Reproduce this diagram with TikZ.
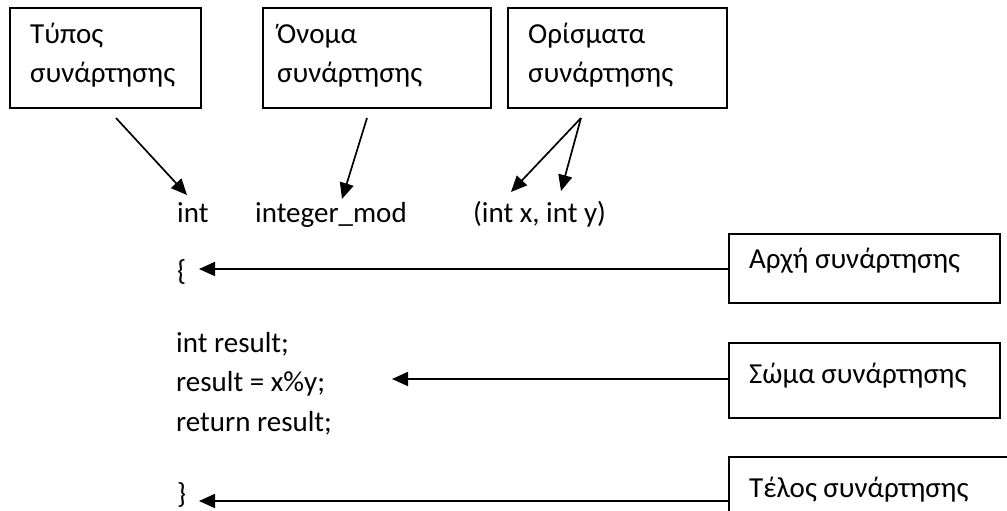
\documentclass[tikz,border=0pt]{standalone}
\usepackage{fontspec}
\setmainfont{Carlito}
\usetikzlibrary{arrows.meta}
\begin{document}
\begin{tikzpicture}[x=1pt,y=-1pt,
  box/.style={draw=black,line width=1.6pt,inner sep=0pt,anchor=north west},
  txt/.style={anchor=base west,inner sep=0pt,font=\fontsize{29}{34}\selectfont},
  conn/.style={line width=1.7pt,-{Triangle[length=16pt,width=14pt]}}]
\clip (0,0) rectangle (1007,511);
% boxes
\node[box,minimum width=191pt,minimum height=100pt] (b1) at (9,7) {};
\node[box,minimum width=228pt,minimum height=100pt] (b2) at (262,7) {};
\node[box,minimum width=219pt,minimum height=100pt] (b3) at (507,7) {};
\node[box,minimum width=271pt,minimum height=69pt] (b4) at (728,233) {};
\node[box,minimum width=271pt,minimum height=75pt] (b5) at (728,342) {};
\node[box,minimum width=300pt,minimum height=90pt] (b6) at (728,456) {};
% box texts
\node[txt] (t1a) at (30,44) {Τύπος};
\node[txt] (t1b) at (30,83) {συνάρτησης};
\node[txt] (t2a) at (277,44) {Όνομα};
\node[txt] (t2b) at (277,83) {συνάρτησης};
\node[txt] (t3a) at (528,44) {Ορίσματα};
\node[txt] (t3b) at (528,83) {συνάρτησης};
\node[txt] (t4) at (749,268) {Αρχή συνάρτησης};
\node[txt] (t5) at (749,383) {Σώμα συνάρτησης};
\node[txt] (t6) at (749,497) {Τέλος συνάρτησης};
% code
\node[txt] (cint) at (177,222) {int};
\node[txt] (cname) at (255,222) {integer\_mod};
\node[txt] (cargs) at (473,222) {(int x, int y)};
\node[txt] (copen) at (177,280) {\{};
\node[txt] (cl1) at (176,352) {int result;};
\node[txt] (cl2) at (176,391) {result = x\%y;};
\node[txt] (cl3) at (176,431) {return result;};
\node[txt] (cclose) at (177,503) {\}};
% connector ends
\coordinate (s1) at (116,118);
\coordinate (e1) at (187,195);
\coordinate (s2) at (367,118);
\coordinate (e2) at (342,199);
\coordinate (s3) at (581,118);
\coordinate (e3a) at (511,192);
\coordinate (e3b) at (561,191);
\coordinate (e4) at (199,269);
\coordinate (e5) at (392,379);
\coordinate (e6) at (199,501);
% connectors
\draw[conn] (s1) -- (e1);
\draw[conn] (s2) -- (e2);
\draw[conn] (s3) -- (e3a);
\draw[conn] (s3) -- (e3b);
\draw[conn] (e4 -| b4.west) -- (e4);
\draw[conn] (e5 -| b5.west) -- (e5);
\draw[conn] (e6 -| b6.west) -- (e6);
\end{tikzpicture}
\end{document}
